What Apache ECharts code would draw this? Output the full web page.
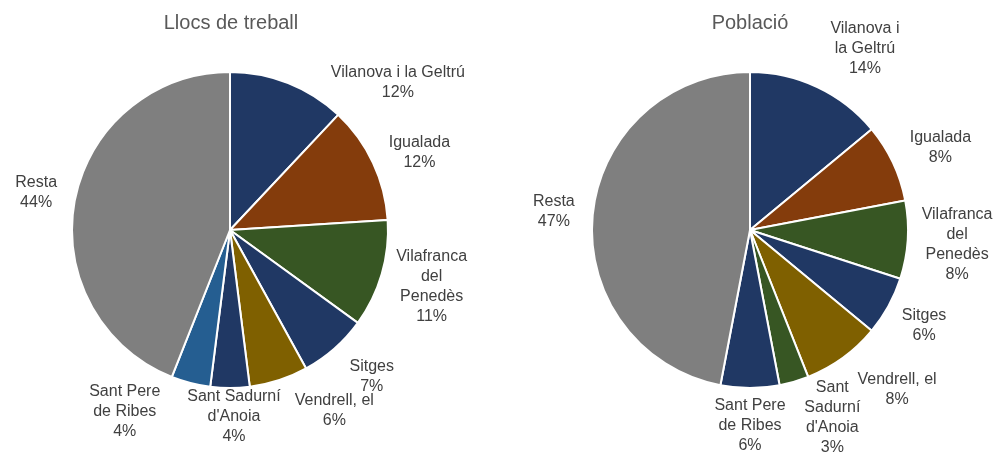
<!DOCTYPE html>
<html>
<head>
<meta charset="utf-8">
<script src="https://cdn.jsdelivr.net/npm/echarts@6/dist/echarts.min.js"></script>
<style>
  html, body { margin: 0; padding: 0; background: #fff; }
  #chart { width: 997px; height: 453px; }
</style>
</head>
<body>
<div id="chart"></div>
<script>
var categories = ['Vilanova i la Geltrú', 'Igualada', 'Vilafranca del Penedès', 'Sitges',
  'Vendrell, el', "Sant Sadurní d'Anoia", 'Sant Pere de Ribes', 'Resta'];
var llocsTreball = [12, 12, 11, 7, 6, 4, 4, 44];
var poblacio = [14, 8, 8, 6, 8, 3, 6, 47];

// label text as wrapped in each pie
var labelsTreball = ['Vilanova i la Geltrú', 'Igualada', 'Vilafranca\ndel\nPenedès', 'Sitges',
  'Vendrell, el', "Sant Sadurní\nd'Anoia", 'Sant Pere\nde Ribes', 'Resta'];
var labelsPoblacio = ['Vilanova i\nla Geltrú', 'Igualada', 'Vilafranca\ndel\nPenedès', 'Sitges',
  'Vendrell, el', "Sant\nSadurní\nd'Anoia", 'Sant Pere\nde Ribes', 'Resta'];

var NAVY = '#203864', BROWN = '#843c0c', GREEN = '#375623', OLIVE = '#7f6000',
    STEEL = '#255e91', GREY = '#7f7f7f';
var colorsTreball = [NAVY, BROWN, GREEN, NAVY, OLIVE, NAVY, STEEL, GREY];
var colorsPoblacio = [NAVY, BROWN, GREEN, NAVY, OLIVE, GREEN, NAVY, GREY];

// manual label nudges (like the hand-moved labels in the original)
var nudgeTreball = [[97, 32], [4, 10], [2, -1], [11, -2], [45, -2], [4, -14], [-55, -14], [-5, -1]];
var nudgePoblacio = [[28, 3], [5, 5], [1, 2], [2, 1], [32, 1], [23, -17], [0, -5], [-5, 0]];

var R = 158;

function makeLayout(values, center, nudge) {
  var total = values.reduce(function (a, b) { return a + b; }, 0);
  var mids = [], acc = 0;
  values.forEach(function (v) {
    mids.push((acc + v / 2) / total * 2 * Math.PI);
    acc += v;
  });
  return function (params) {
    var i = params.dataIndex;
    var dx = Math.sin(mids[i]), dy = -Math.cos(mids[i]);
    var w = params.labelRect.width, h = params.labelRect.height;
    var ex = Math.abs(dx) > 1e-6 ? w / 2 / Math.abs(dx) : Infinity;
    var ey = Math.abs(dy) > 1e-6 ? h / 2 / Math.abs(dy) : Infinity;
    var d = R + 13 + Math.min(ex, ey);
    return {
      x: center[0] + d * dx + nudge[i][0],
      y: center[1] + d * dy + nudge[i][1],
      align: 'center',
      verticalAlign: 'middle'
    };
  };
}

function pieSeries(values, labels, colors, center, nudge) {
  return {
    type: 'pie',
    center: center,
    radius: R,
    startAngle: 90,
    clockwise: true,
    avoidLabelOverlap: false,
    animation: false,
    data: values.map(function (v, i) {
      return { name: categories[i], value: v, itemStyle: { color: colors[i] } };
    }),
    itemStyle: { borderColor: '#fff', borderWidth: 2 },
    label: {
      show: true,
      position: 'outside',
      color: '#404040',
      fontFamily: 'Liberation Sans, Arial, sans-serif',
      fontSize: 16,
      lineHeight: 20,
      formatter: function (p) { return labels[p.dataIndex] + '\n' + p.value + '%'; }
    },
    labelLine: { show: false },
    labelLayout: makeLayout(values, center, nudge),
    emphasis: { disabled: true }
  };
}

var chart = echarts.init(document.getElementById('chart'));
var option = {
  backgroundColor: '#fff',
  title: [
    {
      text: 'Llocs de treball', left: 231, top: 13, padding: 0, textAlign: 'center',
      textStyle: { color: '#595959', fontSize: 20, fontWeight: 'normal', fontFamily: 'Liberation Sans, Arial, sans-serif' }
    },
    {
      text: 'Població', left: 750, top: 13, padding: 0, textAlign: 'center',
      textStyle: { color: '#595959', fontSize: 20, fontWeight: 'normal', fontFamily: 'Liberation Sans, Arial, sans-serif' }
    }
  ],
  series: [
    pieSeries(llocsTreball, labelsTreball, colorsTreball, [230, 230], nudgeTreball),
    pieSeries(poblacio, labelsPoblacio, colorsPoblacio, [750, 230], nudgePoblacio)
  ]
};
chart.setOption(option);
</script>
</body>
</html>
